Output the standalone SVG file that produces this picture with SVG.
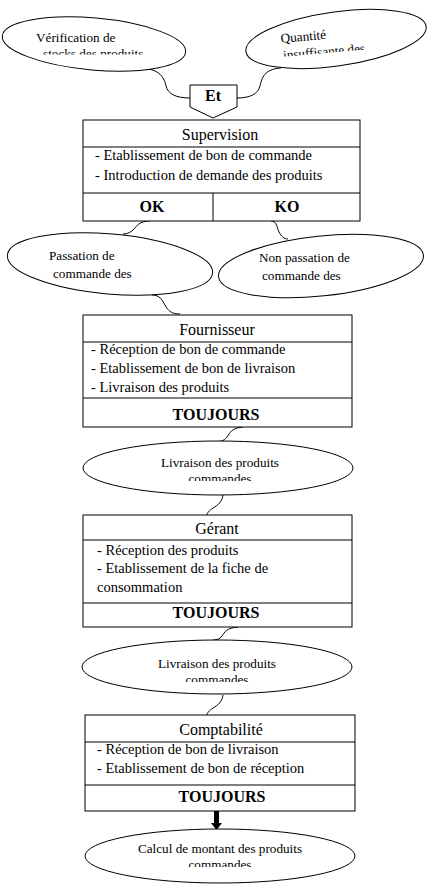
<svg xmlns="http://www.w3.org/2000/svg" width="431" height="884" viewBox="0 0 431 884">
<style>
.shape{fill:#fff;stroke:#000;stroke-width:1}
.line{fill:none;stroke:#000;stroke-width:1}
.conn{fill:none;stroke:#000;stroke-width:1}
.t{font-family:"Liberation Serif","Times New Roman",serif;fill:#000}
.e{font-size:13.2px}
.item{font-size:14.5px}
.title{font-size:16px;text-anchor:middle}
.bold{font-size:16px;font-weight:bold;text-anchor:middle}
.mid{text-anchor:middle}
</style>
<defs>
<clipPath id="c1"><rect x="20" y="20" width="160" height="34.5"/></clipPath>
<clipPath id="c2"><rect x="270" y="15" width="140" height="37"/></clipPath>
<clipPath id="c3"><rect x="100" y="450" width="240" height="31"/></clipPath>
<clipPath id="c4"><rect x="100" y="650" width="240" height="32"/></clipPath>
<clipPath id="c5"><rect x="100" y="835" width="240" height="32"/></clipPath>
</defs>
<g id="connectors">
<path class="conn" d="M138,68 C158,68 164,76 166,86 C168,94 176,98 190,98"/>
<path class="conn" d="M281,68 C264,69 262,78 260,86 C258,94 250,98 237,98"/>
<path class="conn" d="M150,221 C139,221 137,226 134,229 C131,232 128,234 123,234"/>
<path class="conn" d="M271,221 C277,221 277,228 279,232 C281,236 284,239 288,239"/>
<path class="conn" d="M152,295 C160,295 162,300 165,305 C168,311 172,314 180,314"/>
<path class="conn" d="M243,427 C231,428 230,433 227,437 C224,441 220,442 213,442"/>
<path class="conn" d="M223,495 C222,502 218,505 213,508 C209,511 207,513 207,515"/>
<path class="conn" d="M238,627 C226,628 225,632 222,636 C220,639 217,640 213,640"/>
<path class="conn" d="M223,695 C222,702 218,705 213,708 C209,711 207,713 207,715"/>
<rect x="214" y="811" width="5" height="13" fill="#000"/>
<polygon points="211,823 222,823 216.5,830" fill="#000"/>
</g>
<g id="verification">
<ellipse class="shape" cx="94" cy="44" rx="92" ry="26" transform="rotate(5 94 44)"/>
<g clip-path="url(#c1)">
<text class="t e" x="36" y="42">Vérification de</text>
<text class="t e" x="43" y="58">stocks des produits</text>
</g>
</g>
<g id="quantite">
<ellipse class="shape" cx="336" cy="39" rx="91" ry="27" transform="rotate(-8 336 39)"/>
<g transform="rotate(-5 336 40)">
<g clip-path="url(#c2)">
<text class="t e" x="281" y="38">Quantité</text>
<text class="t e" x="282" y="55">insuffisante des</text>
</g>
</g>
</g>
<g id="et">
<polygon class="shape" points="190,85 237,85 237,107 213,118 190,107"/>
<text class="t bold" x="213" y="101">Et</text>
</g>
<g id="supervision">
<rect class="shape" x="83" y="120" width="277" height="101"/>
<line class="line" x1="83" y1="147" x2="360" y2="147"/>
<line class="line" x1="83" y1="193" x2="360" y2="193"/>
<line class="line" x1="213" y1="193" x2="213" y2="221"/>
<text class="t title" x="220" y="140">Supervision</text>
<text class="t item" x="95" y="160">- Etablissement de bon de commande</text>
<text class="t item" x="95" y="180">- Introduction de demande des produits</text>
<text class="t bold" x="152" y="212">OK</text>
<text class="t bold" x="287" y="212">KO</text>
</g>
<g id="passation">
<ellipse class="shape" cx="110" cy="264" rx="103" ry="30" transform="rotate(5 110 264)"/>
<text class="t e" x="49" y="260">Passation de</text>
<text class="t e" x="53" y="278">commande des</text>
</g>
<g id="non-passation">
<ellipse class="shape" cx="321" cy="266" rx="103" ry="30" transform="rotate(-6 321 266)"/>
<text class="t e" x="259" y="262">Non passation de</text>
<text class="t e" x="262" y="280">commande des</text>
</g>
<g id="fournisseur">
<rect class="shape" x="83" y="315" width="269" height="112"/>
<line class="line" x1="83" y1="342" x2="352" y2="342"/>
<line class="line" x1="83" y1="398" x2="352" y2="398"/>
<text class="t title" x="217" y="335">Fournisseur</text>
<text class="t item" x="91" y="354">- Réception de bon de commande</text>
<text class="t item" x="91" y="373">- Etablissement de bon de livraison</text>
<text class="t item" x="91" y="392">- Livraison des produits</text>
<text class="t bold" x="216" y="420">TOUJOURS</text>
</g>
<g id="livraison1">
<ellipse class="shape" cx="218" cy="468" rx="135" ry="27"/>
<g clip-path="url(#c3)">
<text class="t e mid" x="220" y="467">Livraison des produits</text>
<text class="t e mid" x="220" y="483">commandes</text>
</g>
</g>
<g id="gerant">
<rect class="shape" x="83" y="515" width="269" height="112"/>
<line class="line" x1="83" y1="540" x2="352" y2="540"/>
<line class="line" x1="83" y1="603" x2="352" y2="603"/>
<text class="t title" x="217" y="534">Gérant</text>
<text class="t item" x="97" y="555">- Réception des produits</text>
<text class="t item" x="97" y="573">- Etablissement de la fiche de</text>
<text class="t item" x="97" y="592">consommation</text>
<text class="t bold" x="216" y="618">TOUJOURS</text>
</g>
<g id="livraison2">
<ellipse class="shape" cx="217" cy="667" rx="135" ry="27"/>
<g clip-path="url(#c4)">
<text class="t e mid" x="217" y="668">Livraison des produits</text>
<text class="t e mid" x="217" y="684">commandes</text>
</g>
</g>
<g id="comptabilite">
<rect class="shape" x="85" y="715" width="270" height="96"/>
<line class="line" x1="85" y1="742" x2="355" y2="742"/>
<line class="line" x1="85" y1="785" x2="355" y2="785"/>
<text class="t title" x="221" y="735">Comptabilité</text>
<text class="t item" x="97" y="754">- Réception de bon de livraison</text>
<text class="t item" x="97" y="773">- Etablissement de bon de réception</text>
<text class="t bold" x="222" y="802">TOUJOURS</text>
</g>
<g id="calcul">
<ellipse class="shape" cx="220" cy="856" rx="135" ry="27"/>
<g clip-path="url(#c5)">
<text class="t e mid" x="220" y="853">Calcul de montant des produits</text>
<text class="t e mid" x="220" y="869">commandes</text>
</g>
</g>
</svg>
